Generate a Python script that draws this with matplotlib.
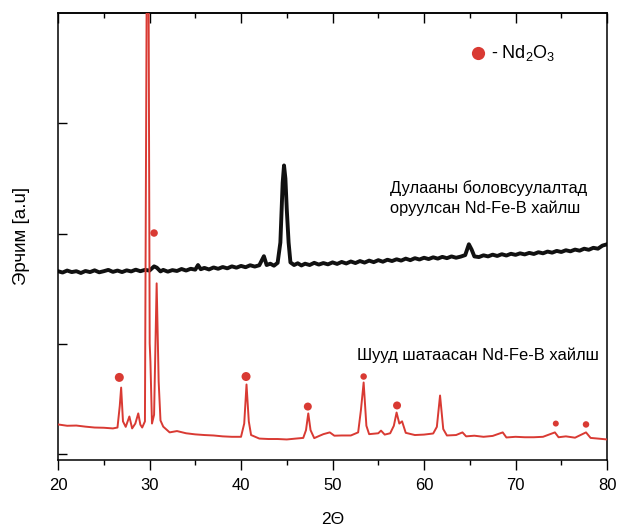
import matplotlib
matplotlib.use("Agg")
import matplotlib.pyplot as plt
from matplotlib.ticker import MultipleLocator

plt.rcParams['font.family'] = ['Liberation Sans', 'DejaVu Sans']
plt.rcParams['mathtext.fontset'] = 'custom'
plt.rcParams['mathtext.rm'] = 'Liberation Sans'

# heat-treated alloy (black, upper pattern)
black_2theta = [20.0, 20.5, 21.0, 21.5, 22.0, 22.5, 23.0, 23.5, 24.0, 24.5,
                25.0, 25.5, 26.0, 26.5, 27.0, 27.5, 28.0, 28.5, 29.0, 29.5,
                30.0, 30.5, 30.8, 31.2, 31.5, 32.0, 32.5, 33.0, 33.5, 34.0,
                34.5, 35.0, 35.3, 35.6, 36.0, 36.5, 37.0, 37.5, 38.0, 38.5,
                39.0, 39.5, 40.0, 40.5, 41.0, 41.5, 42.0, 42.5, 42.8, 43.2,
                43.6, 44.0, 44.3, 44.55, 44.7, 44.85, 45.0, 45.2, 45.4, 45.8,
                46.2, 46.6, 47.0, 47.5, 48.0, 48.5, 49.0, 49.5, 50.0, 50.5,
                51.0, 51.5, 52.0, 52.5, 53.0, 53.5, 54.0, 54.5, 55.0, 55.5,
                56.0, 56.5, 57.0, 57.5, 58.0, 58.5, 59.0, 59.5, 60.0, 60.5,
                61.0, 61.5, 62.0, 62.5, 63.0, 63.5, 64.0, 64.5, 64.9, 65.2,
                65.5, 66.0, 66.5, 67.0, 67.5, 68.0, 68.5, 69.0, 69.5, 70.0,
                70.5, 71.0, 71.5, 72.0, 72.5, 73.0, 73.5, 74.0, 74.5, 75.0,
                75.5, 76.0, 76.5, 77.0, 77.5, 78.0, 78.5, 79.0, 79.5, 80.0]
black_counts = [830, 824, 833, 826, 830, 822, 831, 826, 834, 825,
                830, 836, 827, 833, 826, 834, 829, 837, 830, 836,
                833, 852, 846, 829, 836, 828, 835, 831, 840, 833,
                841, 837, 858, 839, 845, 838, 847, 841, 849, 843,
                852, 846, 854, 848, 857, 851, 857, 898, 858, 864,
                855, 868, 960, 1230, 1309, 1250, 1110, 960, 870, 858,
                866, 856, 864, 858, 868, 860, 867, 861, 870, 863,
                872, 865, 874, 867, 876, 869, 878, 871, 880, 873,
                882, 876, 884, 878, 887, 880, 889, 883, 891, 885,
                893, 887, 895, 889, 897, 891, 896, 903, 952, 928,
                897, 894, 902, 897, 905, 899, 907, 901, 909, 904,
                911, 906, 913, 908, 916, 911, 919, 914, 922, 917,
                925, 920, 928, 923, 932, 927, 936, 932, 946, 952]

# directly sintered alloy (red, lower pattern)
red_2theta = [20.0, 21.0, 22.0, 23.0, 24.0, 25.0, 26.0, 26.5, 26.75, 26.9,
              27.1, 27.4, 27.8, 28.1, 28.45, 28.77, 29.0, 29.2, 29.5, 29.74,
              29.86, 30.02, 30.1, 30.27, 30.5, 30.78, 31.0, 31.2, 31.5, 32.2,
              33.0, 34.0, 35.0, 36.0, 37.0, 38.0, 39.0, 40.0, 40.35, 40.6,
              40.85, 41.1, 42.0, 43.0, 44.0, 45.0, 46.0, 46.8, 47.1, 47.35,
              47.6, 48.0, 48.6, 49.0, 49.7, 50.2, 51.0, 52.0, 52.8, 53.1,
              53.4, 53.7, 54.0, 55.0, 55.3, 55.7, 56.3, 56.7, 57.0, 57.3,
              57.6, 58.0, 59.0, 60.0, 61.0, 61.4, 61.75, 62.1, 62.5, 63.5,
              64.2, 64.6, 65.5, 66.5, 67.5, 68.6, 69.0, 70.0, 71.0, 72.0,
              73.0, 74.3, 74.7, 75.5, 76.5, 77.7, 78.2, 79.0, 80.0]
red_counts = [136, 130, 131, 126, 122, 121, 118, 122, 220, 303,
              150, 125, 172, 118, 140, 186, 135, 122, 150, 2600,
              2600, 503, 420, 140, 180, 775, 330, 154, 126, 100,
              106, 96, 91, 88, 86, 82, 80, 80, 140, 317,
              150, 88, 72, 70, 70, 68, 72, 75, 110, 186,
              110, 74, 85, 92, 100, 85, 86, 86, 100, 200,
              326, 130, 92, 96, 108, 90, 96, 130, 190, 140,
              150, 98, 88, 90, 95, 125, 267, 115, 86, 88,
              100, 82, 85, 80, 84, 100, 77, 80, 78, 78,
              80, 100, 78, 82, 76, 100, 75, 72, 68]

# Nd2O3 reflection markers
dot_2theta = [26.7, 30.5, 40.55, 47.3, 53.4, 57.05, 74.4, 77.7]
dot_counts = [349, 1003, 353, 217, 353, 222, 140, 136]

label_heat = "Дулааны боловсуулалтад\nоруулсан Nd-Fe-B хайлш"
label_direct = "Шууд шатаасан Nd-Fe-B хайлш"

red = '#d93a33'
dot_px = [9, 7.5, 9, 8, 6.5, 8, 6, 6.5]

fig = plt.figure(figsize=(6.19, 5.26), dpi=100)
ax = fig.add_axes([0.0937, 0.1255, 0.887, 0.85])

ax.plot(black_2theta, black_counts, color='#111111', lw=2.8, zorder=2)
ax.plot(red_2theta, red_counts, color=red, lw=1.4, zorder=3)
ax.scatter(dot_2theta, dot_counts, s=[(p * 0.72) ** 2 for p in dot_px],
           color=red, edgecolors='none', zorder=4)

# legend entry for Nd2O3
ax.plot([65.9], [1817], 'o', color=red, ms=9.5, mec='none')
ax.text(67.3, 1817, r"- Nd$_2$O$_3$", fontsize=13, va='center', ha='left')

ax.text(56.3, 1160, label_heat, fontsize=11.8, ha='left', va='center',
        linespacing=1.35)
ax.text(52.7, 448, label_direct, fontsize=11.9, ha='left', va='center')

ax.set_xlim(20, 80)
ax.set_ylim(-25, 2000)
ax.xaxis.set_major_locator(MultipleLocator(10))
ax.xaxis.set_minor_locator(MultipleLocator(5))
ax.set_yticks([0, 500, 1000, 1500])
ax.tick_params(axis='x', which='major', direction='out', length=7, width=1,
               labelsize=12, pad=6)
ax.tick_params(axis='x', which='minor', direction='out', length=3.5, width=1)
ax.tick_params(axis='y', direction='in', length=6.5, width=1, labelleft=False)

top = ax.secondary_xaxis('top')
top.xaxis.set_major_locator(MultipleLocator(10))
top.xaxis.set_minor_locator(MultipleLocator(5))
top.tick_params(which='major', direction='in', length=7, width=1, labeltop=False)
top.tick_params(which='minor', direction='in', length=3.5, width=1)

for sp in ax.spines.values():
    sp.set_linewidth(1.1)
top.spines['top'].set_linewidth(1.1)

ax.set_xlabel("2Θ", fontsize=12.5, labelpad=14)
ax.set_ylabel("Эрчим [a.u]", fontsize=13.5, labelpad=20)

fig.savefig('out.png', dpi=100)
